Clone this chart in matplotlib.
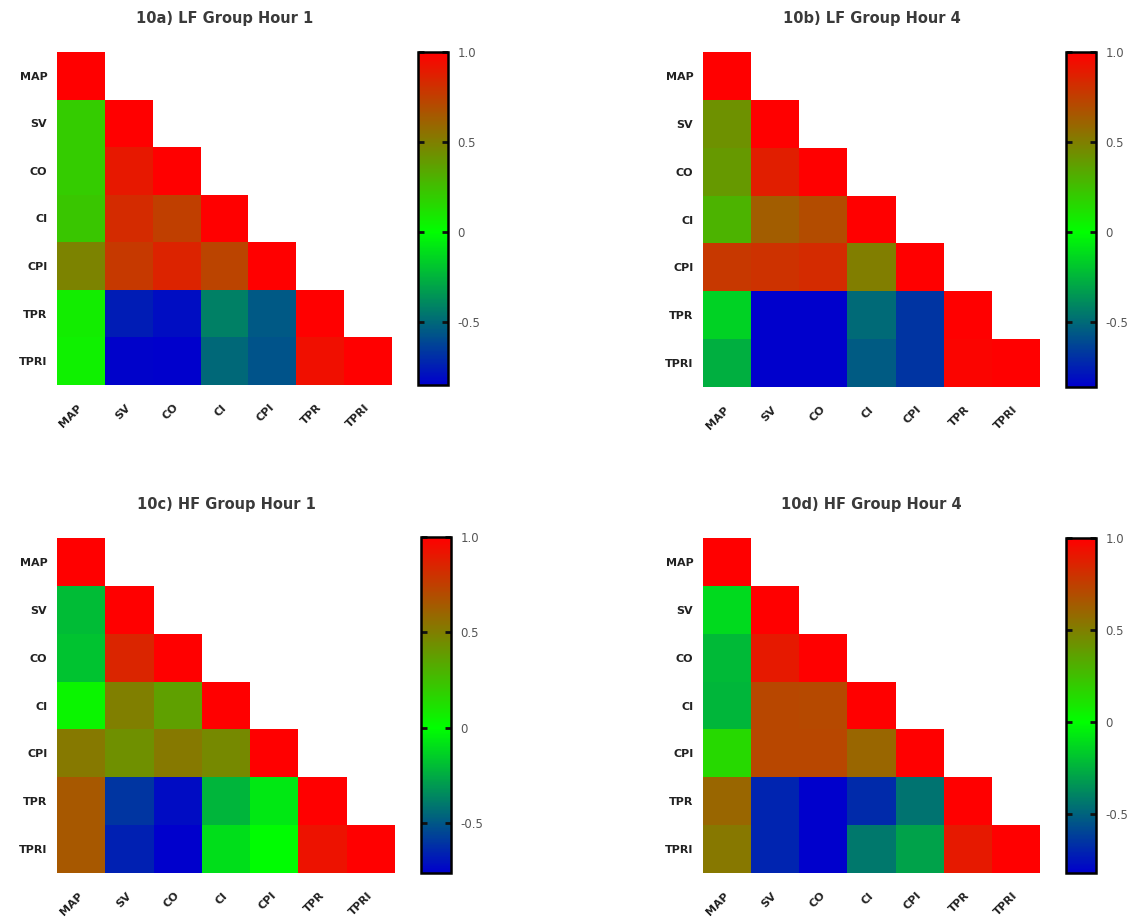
import numpy as np
import matplotlib
matplotlib.use("Agg")
import matplotlib.pyplot as plt
from matplotlib.colors import LinearSegmentedColormap, Normalize

plt.rcParams['font.family'] = ['DejaVu Sans']

variables = ["MAP", "SV", "CO", "CI", "CPI", "TPR", "TPRI"]

# Lower-triangle correlation rows (row i holds columns 0..i)
lf_hour1 = [
    [1.00],
    [0.20, 1.00],
    [0.20, 0.90, 1.00],
    [0.22, 0.83, 0.75, 1.00],
    [0.48, 0.77, 0.86, 0.73, 1.00],
    [0.07, -0.75, -0.80, -0.42, -0.55, 1.00],
    [0.06, -0.84, -0.85, -0.50, -0.57, 0.94, 1.00],
]
lf_hour4 = [
    [1.00],
    [0.43, 1.00],
    [0.40, 0.88, 1.00],
    [0.30, 0.63, 0.70, 1.00],
    [0.78, 0.80, 0.83, 0.50, 1.00],
    [-0.15, -0.86, -0.86, -0.50, -0.68, 1.00],
    [-0.27, -0.86, -0.86, -0.55, -0.68, 0.98, 1.00],
]
hf_hour1 = [
    [1.00],
    [-0.20, 1.00],
    [-0.18, 0.85, 1.00],
    [0.04, 0.50, 0.37, 1.00],
    [0.52, 0.43, 0.52, 0.46, 1.00],
    [0.65, -0.60, -0.72, -0.22, -0.07, 1.00],
    [0.65, -0.66, -0.76, -0.10, -0.01, 0.93, 1.00],
]
hf_hour4 = [
    [1.00],
    [-0.12, 1.00],
    [-0.22, 0.90, 1.00],
    [-0.23, 0.72, 0.71, 1.00],
    [0.15, 0.72, 0.72, 0.60, 1.00],
    [0.60, -0.70, -0.82, -0.68, -0.45, 1.00],
    [0.53, -0.70, -0.82, -0.43, -0.30, 0.90, 1.00],
]

titles = ["10a) LF Group Hour 1", "10b) LF Group Hour 4",
          "10c) HF Group Hour 1", "10d) HF Group Hour 4"]
panels = [lf_hour1, lf_hour4, hf_hour1, hf_hour4]

BLUE = (0.0, 0.0, 0.80)
GREEN = (0.0, 1.0, 0.0)
RED = (1.0, 0.0, 0.0)

W, H = 1137, 919
# heatmap boxes and colorbar boxes in pixels: (left, top, right, bottom)
heat_boxes = [(57, 52, 392, 385), (703, 52, 1040, 387),
              (57, 538, 395, 873), (703, 538, 1040, 873)]
cbar_boxes = [(418, 52, 448, 385), (1066, 52, 1096, 387),
              (421, 537, 451, 873), (1066, 538, 1096, 873)]


def frac(box):
    l, t, r, b = box
    return [l / W, 1 - b / H, (r - l) / W, (b - t) / H]


def full_matrix(rows):
    n = len(rows)
    m = np.full((n, n), np.nan)
    for i, row in enumerate(rows):
        m[i, :len(row)] = row
    return np.ma.masked_invalid(m)


fig = plt.figure(figsize=(W / 100, H / 100), dpi=100)

for rows, title, hb, cb in zip(panels, titles, heat_boxes, cbar_boxes):
    ax = fig.add_axes(frac(hb))
    data = full_matrix(rows)
    vmin = float(data.min())
    # blue at the panel minimum, green at zero, red at +1 (linear scale)
    zero_pos = -vmin / (1.0 - vmin)
    cmap = LinearSegmentedColormap.from_list(
        "bgr", [(0.0, BLUE), (zero_pos, GREEN), (1.0, RED)])
    norm = Normalize(vmin=vmin, vmax=1.0)
    n = len(variables)
    mesh = ax.pcolormesh(np.arange(n + 1), np.arange(n + 1), data,
                         cmap=cmap, norm=norm, edgecolors='none')
    ax.set_xlim(0, n)
    ax.set_ylim(n, 0)
    for s in ax.spines.values():
        s.set_visible(False)
    centers = np.arange(n) + 0.5
    ax.set_xticks(centers)
    ax.set_yticks(centers)
    ax.set_xticklabels(variables, rotation=45, ha='right', va='center',
                       rotation_mode='anchor', fontsize=8,
                       fontweight='bold', color='#222222')
    ax.set_yticklabels(variables, fontsize=8, fontweight='bold',
                       color='#222222')
    ax.tick_params(axis='x', length=0, pad=15)
    ax.tick_params(axis='y', length=0, pad=7)
    ax.set_title(title, fontsize=10.5, fontweight='bold', color='#3a3a3a',
                 pad=21)

    cax = fig.add_axes(frac(cb))
    cbar = fig.colorbar(mesh, cax=cax)
    cbar.set_ticks([-0.5, 0.0, 0.5, 1.0])
    cbar.set_ticklabels(["-0.5", "0", "0.5", "1.0"])
    cbar.outline.set_edgecolor('black')
    cbar.outline.set_linewidth(1.8)
    cax.tick_params(direction='in', left=True, right=True, length=4,
                    width=2, color='#111111', labelsize=8.5,
                    labelcolor='#555555', pad=7)

fig.savefig("out.png", dpi=100)
